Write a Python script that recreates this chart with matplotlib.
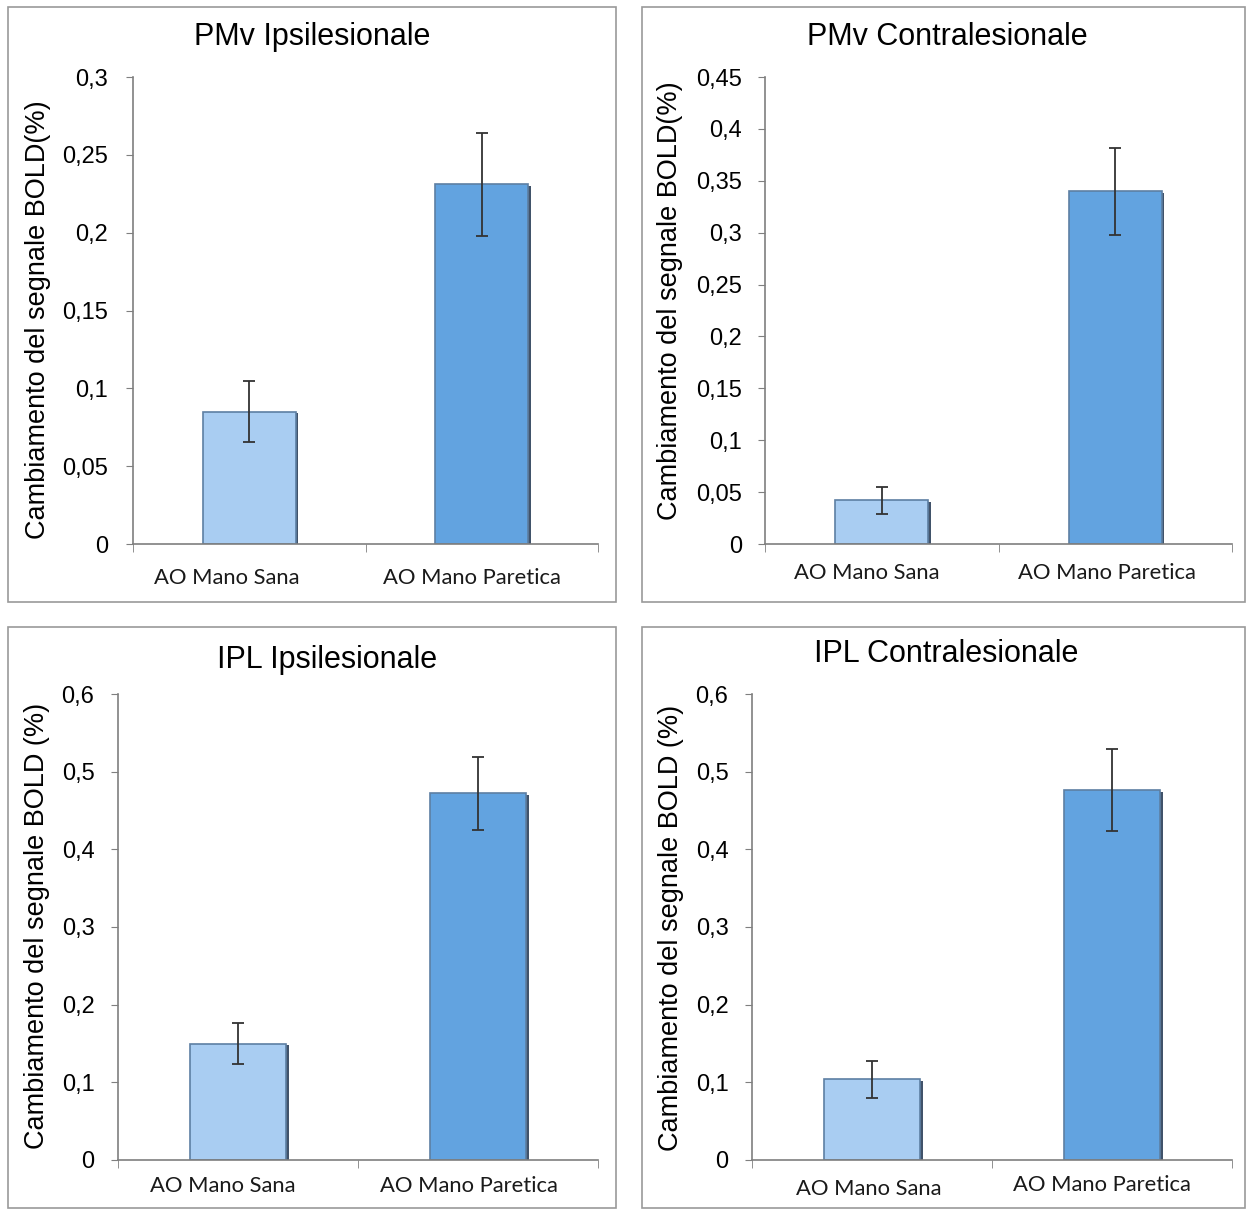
import matplotlib.pyplot as plt
import matplotlib.patheffects as pe
import matplotlib.transforms as mtransforms
from matplotlib.patches import Rectangle

# conditions on the x axis
conditions = ["AO Mano Sana", "AO Mano Paretica"]

# mean BOLD signal change and error per region
pmv_ipsi = [0.085, 0.231]
pmv_ipsi_err = [0.0195, 0.033]
pmv_contra = [0.042, 0.340]
pmv_contra_err = [0.013, 0.042]
ipl_ipsi = [0.150, 0.472]
ipl_ipsi_err = [0.026, 0.047]
ipl_contra = [0.104, 0.476]
ipl_contra_err = [0.024, 0.053]

titles = ["PMv Ipsilesionale", "PMv Contralesionale",
          "IPL Ipsilesionale", "IPL Contralesionale"]
ylabels = ["Cambiamento del segnale BOLD(%)", "Cambiamento del segnale BOLD(%)",
           "Cambiamento del segnale BOLD (%)", "Cambiamento del segnale BOLD (%)"]
yticks = [[0, 0.05, 0.1, 0.15, 0.2, 0.25, 0.3],
          [0, 0.05, 0.1, 0.15, 0.2, 0.25, 0.3, 0.35, 0.4, 0.45],
          [0, 0.1, 0.2, 0.3, 0.4, 0.5, 0.6],
          [0, 0.1, 0.2, 0.3, 0.4, 0.5, 0.6]]

values = [pmv_ipsi, pmv_contra, ipl_ipsi, ipl_contra]
errors = [pmv_ipsi_err, pmv_contra_err, ipl_ipsi_err, ipl_contra_err]
bar_colors = ["#a9cdf2", "#62a3e0"]

W, H = 1247, 1211
fig = plt.figure(figsize=(W / 100, H / 100), dpi=100)
fig.patch.set_facecolor("white")

# layout in pixels: axes box (left, right, top, bottom), panel frame, title, ylabel
axes_px = [(133, 598, 77, 544), (765, 1232, 77, 544),
           (118, 598, 694, 1160), (752, 1232, 694, 1160)]
frames_px = [(8, 616, 7, 602), (642, 1245, 7, 602),
             (8, 616, 627, 1208), (642, 1245, 627, 1208)]
title_px = [(312, 37), (947, 37), (327, 660), (946, 654)]
ylabel_px = [(38, 320), (670, 301), (37, 926), (671, 928)]
ytick_pad = [13, 11.5, 12, 12]
xlabel_pad = [17, 14, 11.5, 11]
# small per-label shifts of the category names, in pixels (dx, dy down)
xlabel_shift = [[(-23, 0), (-10, 0)], [(-15, 0), (-8, 0)],
                [(-15, 0), (-9, 0)], [(-3, 4), (-10, 0)]]


def fx(x):
    return x / W


def fy(y):
    return 1 - y / H


for (l, r, t, b) in frames_px:
    fig.patches.append(Rectangle((fx(l), fy(b)), fx(r - l), (b - t) / H,
                                 transform=fig.transFigure, fill=False,
                                 edgecolor="#9a9a9a", linewidth=1.2))

for i in range(4):
    l, r, t, b = axes_px[i]
    ax = fig.add_axes([fx(l), fy(b), fx(r - l), (b - t) / H])
    x = range(len(conditions))
    bars = ax.bar(x, values[i], width=0.4, color=bar_colors,
                  edgecolor="#5d7fa3", linewidth=1.2, zorder=2)
    for bar in bars:
        bar.set_path_effects([pe.SimplePatchShadow(offset=(1.8, -1.2),
                                                   shadow_rgbFace="#1f3550",
                                                   alpha=0.85),
                              pe.Normal()])
    ax.errorbar(x, values[i], yerr=errors[i], fmt="none", ecolor="#333333",
                elinewidth=1.3, capsize=4, capthick=1.3, zorder=3)

    ax.set_xlim(-0.5, 1.5)
    ax.set_ylim(0, yticks[i][-1])
    ax.set_yticks(yticks[i])
    ax.set_yticklabels([("%g" % v).replace(".", ",") for v in yticks[i]],
                       fontsize=17, family="Liberation Sans")
    ax.set_xticks(list(x))
    ax.set_xticklabels(conditions, fontsize=15.8, family="Lato", color="#1a1a1a")
    ax.tick_params(axis="x", length=0, pad=xlabel_pad[i])
    ax.set_xticks([-0.5, 0.5, 1.5], minor=True)
    ax.tick_params(axis="x", which="minor", length=6, direction="out",
                   color="#7f7f7f")
    ax.tick_params(axis="y", length=5, direction="out", color="#7f7f7f",
                   pad=ytick_pad[i])

    for lab, (dx, dy) in zip(ax.get_xticklabels(), xlabel_shift[i]):
        shift = mtransforms.ScaledTranslation(dx / 100, -dy / 100,
                                              fig.dpi_scale_trans)
        lab.set_transform(lab.get_transform() + shift)

    for side in ["top", "right"]:
        ax.spines[side].set_visible(False)
    for side in ["left", "bottom"]:
        ax.spines[side].set_color("#7f7f7f")
        ax.spines[side].set_linewidth(1.2)

    fig.text(fx(title_px[i][0]), fy(title_px[i][1]), titles[i], fontsize=22,
             family="Liberation Sans", ha="center", va="center")
    fig.text(fx(ylabel_px[i][0]), fy(ylabel_px[i][1]), ylabels[i],
             fontsize=19.5, family="Liberation Sans", ha="center",
             va="center", rotation=90)

fig.savefig("out.png", dpi=100)
